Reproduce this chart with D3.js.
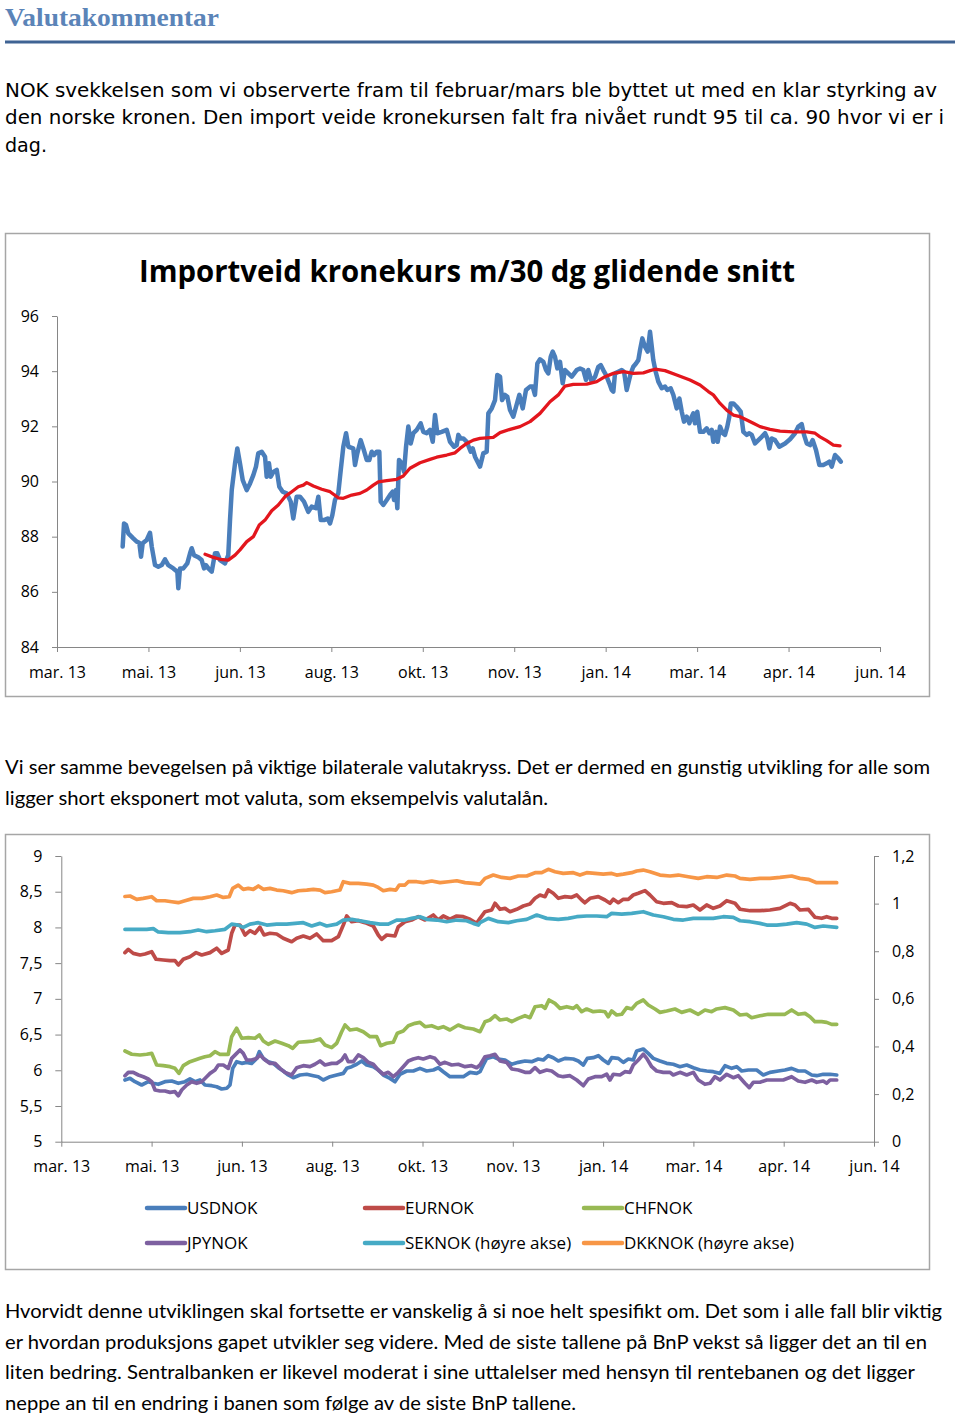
<!DOCTYPE html>
<html><head><meta charset="utf-8">
<script src="https://cdn.jsdelivr.net/npm/d3@7"></script>
<style>body{margin:0;background:#fff}svg{display:block}</style>
</head><body><svg id="page" width="960" height="1416"></svg>
<script>
// ---------- DATA ----------
const headerTitle = "Valutakommentar";
const para1 = [
  "NOK svekkelsen som vi observerte fram til februar/mars ble byttet ut med en klar styrking av",
  "den norske kronen. Den import veide kronekursen falt fra nivået rundt 95 til ca. 90 hvor vi er i",
  "dag."
];
const para2 = [
  "Vi ser samme bevegelsen på viktige bilaterale valutakryss. Det er dermed en gunstig utvikling for alle som",
  "ligger short eksponert mot valuta, som eksempelvis valutalån."
];
const para3 = [
  "Hvorvidt denne utviklingen skal fortsette er vanskelig å si noe helt spesifikt om. Det som i alle fall blir viktig",
  "er hvordan produksjons gapet utvikler seg videre. Med de siste tallene på BnP vekst så ligger det an til en",
  "liten bedring. Sentralbanken er likevel moderat i sine uttalelser med hensyn til rentebanen og det ligger",
  "neppe an til en endring i banen som følge av de siste BnP tallene."
];
const chart1Title = "Importveid kronekurs m/30 dg glidende snitt";
const xTickLabels = ["mar. 13","mai. 13","jun. 13","aug. 13","okt. 13","nov. 13","jan. 14","mar. 14","apr. 14","jun. 14"];
const kursTicks = [84,86,88,90,92,94,96];
const leftTicks = [5,5.5,6,6.5,7,7.5,8,8.5,9];
const rightTicks = [0,0.2,0.4,0.6,0.8,1,1.2];

// x in tick-interval units (0 = "mar. 13", 9 = "jun. 14")
const importKurs = [[0.718,87.64],[0.733,88.48],[0.755,88.42],[0.780,88.12],[0.834,87.94],[0.872,87.82],[0.900,87.78],[0.919,87.27],[0.937,87.76],[0.981,87.88],[1.017,88.14],[1.036,87.64],[1.072,86.97],[1.108,86.91],[1.145,86.97],[1.181,87.18],[1.217,86.97],[1.272,86.85],[1.316,86.73],[1.327,86.13],[1.345,86.85],[1.381,86.85],[1.425,87.03],[1.455,87.40],[1.473,87.58],[1.498,87.33],[1.545,87.25],[1.582,87.15],[1.608,86.85],[1.629,86.97],[1.655,86.85],[1.692,86.73],[1.728,87.40],[1.753,87.40],[1.783,87.15],[1.837,87.03],[1.873,87.33],[1.892,88.60],[1.911,89.69],[1.947,90.66],[1.972,91.20],[2.001,90.66],[2.031,90.05],[2.075,89.69],[2.111,89.93],[2.147,90.23],[2.176,90.54],[2.201,91.02],[2.239,91.08],[2.275,90.90],[2.293,90.17],[2.318,90.66],[2.337,90.17],[2.366,90.35],[2.403,90.42],[2.431,89.81],[2.468,89.63],[2.512,89.57],[2.556,89.27],[2.584,88.66],[2.621,89.45],[2.657,89.45],[2.701,89.27],[2.748,88.90],[2.785,89.09],[2.832,89.03],[2.858,89.45],[2.884,88.60],[2.920,88.60],[2.960,88.66],[2.986,88.48],[3.011,88.78],[3.040,89.33],[3.076,89.57],[3.103,90.42],[3.131,91.26],[3.161,91.75],[3.186,91.26],[3.240,91.20],[3.259,90.60],[3.284,91.02],[3.321,91.50],[3.350,91.20],[3.387,90.78],[3.415,90.78],[3.442,91.08],[3.467,90.96],[3.496,91.08],[3.525,91.08],[3.540,89.27],[3.568,89.15],[3.606,89.33],[3.642,89.51],[3.671,89.63],[3.686,89.33],[3.707,89.69],[3.722,89.03],[3.740,90.78],[3.770,90.66],[3.795,90.35],[3.817,91.26],[3.842,91.99],[3.868,91.38],[3.897,91.75],[3.934,91.87],[3.977,92.11],[4.006,91.80],[4.043,91.75],[4.079,91.87],[4.109,91.44],[4.134,92.41],[4.159,91.75],[4.207,91.80],[4.262,91.87],[4.298,91.44],[4.342,91.26],[4.371,91.32],[4.389,91.69],[4.415,91.56],[4.443,91.56],[4.481,91.44],[4.524,91.08],[4.546,91.20],[4.571,90.90],[4.607,90.66],[4.626,90.54],[4.662,91.02],[4.699,91.08],[4.717,92.47],[4.754,92.65],[4.790,92.95],[4.815,93.86],[4.845,93.80],[4.867,92.95],[4.899,93.14],[4.925,93.07],[4.954,92.59],[4.990,92.35],[5.020,92.71],[5.056,93.14],[5.093,92.65],[5.129,93.32],[5.173,93.44],[5.202,93.44],[5.227,93.14],[5.253,94.28],[5.282,94.43],[5.318,94.34],[5.348,94.04],[5.373,93.92],[5.399,94.52],[5.421,94.71],[5.446,94.52],[5.471,94.10],[5.501,94.34],[5.530,93.56],[5.555,94.04],[5.592,93.92],[5.629,93.80],[5.683,94.04],[5.720,94.10],[5.756,94.04],[5.785,93.68],[5.810,94.04],[5.847,93.62],[5.884,93.80],[5.920,94.16],[5.946,94.22],[5.974,94.04],[6.004,93.86],[6.040,93.56],[6.066,93.32],[6.084,93.26],[6.102,93.92],[6.138,93.98],[6.176,94.04],[6.201,93.98],[6.230,93.32],[6.248,93.56],[6.274,93.92],[6.302,94.16],[6.332,94.28],[6.357,94.40],[6.376,94.77],[6.401,95.19],[6.430,94.89],[6.460,94.71],[6.485,95.43],[6.504,94.89],[6.521,94.40],[6.547,93.98],[6.576,93.62],[6.613,93.38],[6.649,93.44],[6.674,93.32],[6.711,93.38],[6.740,93.14],[6.777,92.65],[6.806,93.01],[6.832,92.53],[6.857,92.17],[6.887,92.35],[6.915,92.11],[6.941,92.35],[6.959,92.47],[6.977,92.11],[7.002,92.53],[7.032,91.80],[7.068,91.80],[7.105,91.93],[7.134,91.75],[7.160,91.87],[7.177,91.44],[7.207,91.80],[7.225,91.44],[7.251,91.99],[7.280,91.75],[7.305,91.69],[7.330,91.99],[7.352,92.35],[7.368,92.83],[7.396,92.83],[7.433,92.71],[7.477,92.53],[7.506,91.80],[7.543,91.69],[7.571,91.75],[7.597,91.69],[7.633,91.38],[7.670,91.50],[7.707,91.62],[7.743,91.75],[7.768,91.56],[7.790,91.20],[7.816,91.56],[7.852,91.50],[7.899,91.26],[7.962,91.38],[8.016,91.53],[8.071,91.75],[8.107,91.99],[8.144,92.08],[8.169,91.69],[8.199,91.38],[8.235,91.32],[8.264,91.50],[8.300,91.14],[8.337,90.60],[8.380,90.60],[8.417,90.66],[8.446,90.72],[8.472,90.54],[8.508,90.96],[8.544,90.84],[8.571,90.72]];
const glidendeSnitt = [[1.619,87.36],[1.709,87.25],[1.783,87.18],[1.873,87.15],[1.947,87.33],[2.001,87.52],[2.075,87.82],[2.147,88.00],[2.212,88.42],[2.275,88.60],[2.348,88.94],[2.420,89.15],[2.493,89.45],[2.567,89.63],[2.639,89.81],[2.694,89.87],[2.731,89.96],[2.803,89.84],[2.895,89.72],[2.986,89.63],[3.076,89.41],[3.131,89.39],[3.223,89.51],[3.314,89.57],[3.387,89.69],[3.459,89.87],[3.514,89.99],[3.606,90.03],[3.715,90.08],[3.787,90.20],[3.860,90.48],[3.970,90.68],[4.079,90.80],[4.152,90.88],[4.262,90.96],[4.353,91.04],[4.407,91.20],[4.481,91.38],[4.553,91.50],[4.626,91.56],[4.771,91.60],[4.845,91.77],[4.954,91.89],[5.063,91.99],[5.173,92.17],[5.282,92.47],[5.391,92.89],[5.482,93.14],[5.555,93.46],[5.646,93.52],[5.793,93.53],[5.902,93.62],[5.993,93.80],[6.084,93.92],[6.193,93.98],[6.302,93.92],[6.412,93.94],[6.485,94.02],[6.540,94.07],[6.649,94.02],[6.777,93.86],[6.922,93.68],[7.032,93.50],[7.123,93.26],[7.177,93.14],[7.251,92.83],[7.324,92.59],[7.396,92.41],[7.469,92.35],[7.543,92.23],[7.615,92.11],[7.688,91.99],[7.797,91.89],[7.907,91.83],[8.052,91.80],[8.199,91.80],[8.290,91.75],[8.344,91.62],[8.417,91.48],[8.490,91.32],[8.563,91.29]];

const usdnok = [[0.705,5.864],[0.761,5.887],[0.816,5.840],[0.890,5.794],[0.963,5.840],[1.019,5.818],[1.074,5.804],[1.148,5.840],[1.223,5.850],[1.296,5.818],[1.370,5.840],[1.425,5.878],[1.481,5.840],[1.536,5.864],[1.591,5.794],[1.666,5.784],[1.721,5.770],[1.776,5.738],[1.832,5.748],[1.868,5.794],[1.898,6.027],[1.942,6.120],[1.998,6.097],[2.053,6.111],[2.108,6.097],[2.164,6.167],[2.193,6.260],[2.237,6.167],[2.292,6.120],[2.348,6.097],[2.403,6.036],[2.458,5.990],[2.514,5.934],[2.569,5.896],[2.643,5.934],[2.718,5.944],[2.791,5.924],[2.846,5.910],[2.901,5.864],[2.976,5.910],[3.050,5.934],[3.123,5.957],[3.161,6.027],[3.216,6.050],[3.271,6.084],[3.327,6.130],[3.382,6.074],[3.455,6.050],[3.510,6.004],[3.566,5.934],[3.640,5.887],[3.695,5.840],[3.751,5.944],[3.825,5.990],[3.898,5.990],[3.972,6.027],[4.046,5.990],[4.120,6.004],[4.175,6.036],[4.230,5.980],[4.304,5.910],[4.379,5.910],[4.452,5.910],[4.526,5.971],[4.600,5.957],[4.637,5.980],[4.673,6.074],[4.711,6.167],[4.784,6.190],[4.839,6.158],[4.914,6.144],[4.988,6.084],[5.061,6.111],[5.135,6.130],[5.209,6.120],[5.282,6.158],[5.338,6.144],[5.393,6.204],[5.448,6.176],[5.504,6.130],[5.578,6.167],[5.670,6.158],[5.725,6.130],[5.781,6.074],[5.825,6.167],[5.891,6.176],[5.947,6.204],[6.002,6.144],[6.057,6.097],[6.095,6.176],[6.168,6.167],[6.224,6.111],[6.279,6.158],[6.334,6.144],[6.372,6.270],[6.445,6.298],[6.500,6.237],[6.556,6.167],[6.630,6.130],[6.704,6.097],[6.777,6.084],[6.851,6.050],[6.926,6.074],[6.999,6.036],[7.073,6.004],[7.147,5.990],[7.220,5.980],[7.294,5.957],[7.350,6.064],[7.424,6.027],[7.479,6.050],[7.535,5.990],[7.608,6.004],[7.701,6.004],[7.774,5.934],[7.848,5.971],[7.940,5.990],[8.014,6.004],[8.088,6.027],[8.161,5.990],[8.236,5.990],[8.310,5.934],[8.365,5.924],[8.438,5.944],[8.513,5.944],[8.587,5.934]];
const eurnok = [[0.705,7.647],[0.742,7.693],[0.797,7.637],[0.872,7.614],[0.927,7.628],[1.001,7.660],[1.049,7.554],[1.130,7.544],[1.204,7.535],[1.259,7.535],[1.296,7.474],[1.351,7.554],[1.425,7.590],[1.492,7.647],[1.555,7.614],[1.647,7.647],[1.721,7.708],[1.776,7.637],[1.849,7.684],[1.887,7.918],[1.924,8.034],[1.979,8.034],[2.034,7.894],[2.090,7.954],[2.145,7.918],[2.200,8.002],[2.245,7.894],[2.311,7.918],[2.385,7.908],[2.458,7.848],[2.551,7.800],[2.607,7.848],[2.680,7.880],[2.754,7.848],[2.828,7.908],[2.901,7.814],[2.994,7.814],[3.068,7.870],[3.123,8.034],[3.161,8.160],[3.216,8.080],[3.289,8.095],[3.363,8.067],[3.455,8.020],[3.510,7.894],[3.548,7.834],[3.604,7.894],[3.695,7.880],[3.732,8.010],[3.806,8.080],[3.880,8.104],[3.953,8.150],[4.028,8.104],[4.120,8.174],[4.175,8.104],[4.230,8.160],[4.304,8.114],[4.379,8.160],[4.452,8.150],[4.526,8.114],[4.600,8.058],[4.637,8.128],[4.692,8.220],[4.766,8.244],[4.803,8.338],[4.858,8.254],[4.914,8.267],[4.969,8.220],[5.043,8.254],[5.116,8.300],[5.190,8.328],[5.246,8.408],[5.301,8.454],[5.357,8.431],[5.393,8.524],[5.448,8.478],[5.504,8.408],[5.578,8.431],[5.652,8.422],[5.708,8.454],[5.763,8.384],[5.799,8.346],[5.855,8.408],[5.947,8.431],[6.021,8.384],[6.076,8.338],[6.113,8.394],[6.168,8.346],[6.224,8.394],[6.279,8.394],[6.334,8.454],[6.390,8.478],[6.464,8.515],[6.519,8.454],[6.593,8.360],[6.667,8.338],[6.760,8.346],[6.833,8.300],[6.926,8.291],[6.999,8.314],[7.073,8.244],[7.147,8.314],[7.220,8.267],[7.294,8.300],[7.369,8.374],[7.461,8.338],[7.516,8.254],[7.627,8.234],[7.737,8.234],[7.848,8.244],[7.959,8.267],[8.070,8.338],[8.125,8.314],[8.180,8.244],[8.272,8.254],[8.346,8.142],[8.421,8.128],[8.476,8.151],[8.531,8.128],[8.587,8.128]];
const chfnok = [[0.705,6.270],[0.780,6.224],[0.872,6.214],[0.946,6.224],[1.001,6.237],[1.056,6.074],[1.130,6.064],[1.204,6.050],[1.259,6.027],[1.303,5.957],[1.351,6.064],[1.425,6.120],[1.481,6.144],[1.536,6.167],[1.591,6.190],[1.647,6.204],[1.702,6.260],[1.757,6.224],[1.849,6.224],[1.887,6.470],[1.942,6.588],[1.998,6.448],[2.071,6.457],[2.145,6.448],[2.193,6.494],[2.237,6.410],[2.292,6.364],[2.367,6.410],[2.441,6.378],[2.514,6.344],[2.563,6.308],[2.625,6.392],[2.718,6.401],[2.791,6.410],[2.865,6.438],[2.920,6.354],[2.994,6.317],[3.050,6.378],[3.105,6.540],[3.142,6.634],[3.197,6.564],[3.271,6.578],[3.344,6.540],[3.419,6.470],[3.493,6.470],[3.537,6.344],[3.604,6.378],[3.677,6.392],[3.721,6.518],[3.787,6.550],[3.843,6.624],[3.917,6.657],[3.972,6.671],[4.028,6.610],[4.102,6.624],[4.175,6.587],[4.230,6.610],[4.304,6.564],[4.396,6.634],[4.471,6.596],[4.563,6.578],[4.637,6.540],[4.692,6.680],[4.747,6.704],[4.803,6.764],[4.858,6.704],[4.932,6.718],[4.988,6.680],[5.061,6.727],[5.135,6.764],[5.190,6.736],[5.246,6.890],[5.320,6.904],[5.357,6.867],[5.401,6.984],[5.467,6.937],[5.523,6.867],[5.597,6.890],[5.670,6.867],[5.708,6.904],[5.763,6.820],[5.818,6.858],[5.891,6.820],[5.966,6.830],[6.021,6.820],[6.057,6.750],[6.095,6.830],[6.150,6.774],[6.206,6.784],[6.261,6.877],[6.317,6.858],[6.372,6.937],[6.445,6.984],[6.500,6.914],[6.575,6.858],[6.630,6.811],[6.704,6.830],[6.796,6.858],[6.870,6.811],[6.962,6.844],[7.054,6.784],[7.128,6.844],[7.202,6.820],[7.258,6.858],[7.350,6.877],[7.442,6.844],[7.516,6.774],[7.590,6.784],[7.645,6.736],[7.737,6.764],[7.829,6.784],[7.922,6.784],[8.014,6.784],[8.088,6.844],[8.161,6.784],[8.236,6.797],[8.291,6.750],[8.346,6.680],[8.421,6.680],[8.476,6.671],[8.531,6.643],[8.587,6.643]];
const jpynok = [[0.705,5.924],[0.742,5.971],[0.797,5.971],[0.853,5.934],[0.908,5.910],[0.963,5.878],[1.001,5.840],[1.038,5.724],[1.093,5.710],[1.148,5.710],[1.204,5.691],[1.259,5.700],[1.296,5.644],[1.333,5.724],[1.389,5.794],[1.444,5.840],[1.499,5.818],[1.555,5.840],[1.610,5.910],[1.647,5.957],[1.702,6.004],[1.739,6.074],[1.794,6.074],[1.849,6.027],[1.887,6.167],[1.942,6.237],[1.979,6.284],[2.015,6.237],[2.053,6.144],[2.108,6.144],[2.164,6.167],[2.200,6.214],[2.256,6.144],[2.311,6.097],[2.367,6.097],[2.422,6.027],[2.477,5.971],[2.551,5.934],[2.607,6.036],[2.680,6.064],[2.754,6.050],[2.809,6.084],[2.865,6.130],[2.920,6.074],[2.994,6.097],[3.050,6.097],[3.105,6.144],[3.142,6.214],[3.178,6.120],[3.234,6.120],[3.289,6.214],[3.344,6.176],[3.400,6.111],[3.455,6.084],[3.510,6.004],[3.566,5.944],[3.621,5.971],[3.677,5.910],[3.732,5.971],[3.787,6.050],[3.843,6.130],[3.898,6.158],[3.953,6.176],[4.009,6.158],[4.083,6.190],[4.138,6.167],[4.194,6.084],[4.249,6.111],[4.323,6.074],[4.396,6.084],[4.471,6.050],[4.545,6.064],[4.600,6.036],[4.637,6.074],[4.692,6.190],[4.747,6.204],[4.803,6.224],[4.858,6.130],[4.932,6.111],[4.988,6.018],[5.061,6.004],[5.135,5.971],[5.190,5.971],[5.246,6.036],[5.301,5.971],[5.375,6.004],[5.431,5.990],[5.504,5.924],[5.559,5.910],[5.633,5.924],[5.708,5.864],[5.781,5.784],[5.836,5.878],[5.910,5.910],[5.984,5.910],[6.040,5.944],[6.076,5.864],[6.113,5.944],[6.187,5.934],[6.242,5.980],[6.298,5.971],[6.334,6.074],[6.390,6.144],[6.445,6.224],[6.483,6.167],[6.538,6.050],[6.593,5.990],[6.667,5.971],[6.741,5.971],[6.777,5.934],[6.851,5.971],[6.926,5.934],[6.999,5.971],[7.054,5.864],[7.128,5.804],[7.184,5.818],[7.239,5.910],[7.294,5.864],[7.369,5.944],[7.442,5.896],[7.497,5.924],[7.571,5.818],[7.619,5.757],[7.663,5.832],[7.737,5.832],[7.812,5.864],[7.904,5.864],[7.995,5.864],[8.088,5.910],[8.161,5.850],[8.236,5.832],[8.310,5.864],[8.365,5.832],[8.438,5.850],[8.476,5.818],[8.513,5.864],[8.587,5.864]];
const seknok = [[0.705,0.892],[0.835,0.892],[0.946,0.892],[1.019,0.895],[1.074,0.881],[1.185,0.878],[1.314,0.878],[1.425,0.882],[1.517,0.889],[1.610,0.882],[1.702,0.886],[1.813,0.892],[1.887,0.914],[1.960,0.910],[2.015,0.900],[2.090,0.914],[2.182,0.920],[2.275,0.910],[2.385,0.914],[2.496,0.914],[2.588,0.917],[2.680,0.920],[2.773,0.906],[2.865,0.917],[2.939,0.906],[3.050,0.914],[3.123,0.931],[3.216,0.934],[3.308,0.928],[3.419,0.920],[3.529,0.914],[3.621,0.914],[3.714,0.931],[3.806,0.931],[3.880,0.938],[3.972,0.945],[4.046,0.934],[4.157,0.931],[4.268,0.924],[4.379,0.931],[4.489,0.928],[4.563,0.917],[4.618,0.910],[4.637,0.920],[4.729,0.938],[4.839,0.924],[4.950,0.920],[5.043,0.928],[5.154,0.934],[5.265,0.952],[5.375,0.938],[5.504,0.934],[5.614,0.938],[5.708,0.945],[5.818,0.948],[5.929,0.948],[6.040,0.945],[6.095,0.959],[6.206,0.956],[6.317,0.959],[6.445,0.966],[6.556,0.952],[6.667,0.945],[6.777,0.934],[6.888,0.931],[6.999,0.938],[7.109,0.938],[7.220,0.938],[7.331,0.945],[7.442,0.942],[7.516,0.928],[7.627,0.924],[7.737,0.917],[7.812,0.910],[7.922,0.910],[8.033,0.914],[8.144,0.920],[8.255,0.914],[8.346,0.900],[8.438,0.906],[8.587,0.900]];
const dkknok = [[0.705,1.030],[0.761,1.032],[0.835,1.018],[0.908,1.022],[1.001,1.029],[1.056,1.012],[1.148,1.012],[1.223,1.008],[1.296,1.004],[1.370,1.012],[1.462,1.022],[1.555,1.022],[1.647,1.029],[1.721,1.036],[1.794,1.026],[1.860,1.029],[1.898,1.064],[1.960,1.078],[2.015,1.060],[2.071,1.064],[2.126,1.060],[2.182,1.074],[2.237,1.060],[2.311,1.064],[2.385,1.057],[2.458,1.054],[2.551,1.046],[2.625,1.054],[2.718,1.057],[2.791,1.060],[2.865,1.057],[2.920,1.046],[2.994,1.050],[3.086,1.057],[3.123,1.092],[3.197,1.085],[3.289,1.085],[3.382,1.082],[3.455,1.078],[3.510,1.068],[3.566,1.054],[3.640,1.060],[3.706,1.057],[3.743,1.078],[3.806,1.078],[3.843,1.092],[3.936,1.092],[4.009,1.088],[4.102,1.095],[4.194,1.088],[4.286,1.092],[4.379,1.096],[4.471,1.088],[4.563,1.085],[4.637,1.082],[4.692,1.106],[4.784,1.120],[4.877,1.110],[4.969,1.106],[5.061,1.116],[5.154,1.116],[5.246,1.130],[5.320,1.130],[5.393,1.144],[5.467,1.134],[5.559,1.127],[5.670,1.130],[5.744,1.120],[5.818,1.130],[5.910,1.127],[6.002,1.124],[6.095,1.127],[6.150,1.120],[6.224,1.124],[6.317,1.130],[6.372,1.137],[6.445,1.141],[6.519,1.134],[6.630,1.120],[6.741,1.116],[6.833,1.120],[6.943,1.113],[7.054,1.106],[7.147,1.113],[7.258,1.110],[7.369,1.120],[7.461,1.116],[7.516,1.106],[7.627,1.102],[7.737,1.106],[7.848,1.106],[7.959,1.110],[8.088,1.116],[8.180,1.106],[8.272,1.102],[8.365,1.088],[8.476,1.088],[8.587,1.088]];

const seriesNames = ["USDNOK","EURNOK","CHFNOK","JPYNOK","SEKNOK (høyre akse)","DKKNOK (høyre akse)"];
const seriesData = [usdnok, eurnok, chfnok, jpynok, seknok, dkknok];
const seriesAxis = ["left","left","left","left","right","right"];
const seriesColors = ["#4a7ebb","#be4b48","#98b954","#7d60a0","#46aac5","#f79646"];

// ---------- DRAW ----------
const svg = d3.select("#page");
const AX = "#868686";
const fmtComma = v => String(v).replace(".", ",");

function textLines(lines, opts) {
  lines.forEach((t, i) => {
    const el = svg.append("text")
      .attr("x", opts.x).attr("y", opts.y0 + i * opts.dy)
      .attr("font-family", opts.font).attr("font-size", opts.size)
      .attr("fill", opts.fill || "#000").text(t);
    if (opts.widths && opts.widths[i]) el.attr("textLength", opts.widths[i]).attr("lengthAdjust", "spacingAndGlyphs");
  });
}

// Header
svg.append("text").attr("x", 5).attr("y", 26)
  .attr("font-family", "'Liberation Serif', serif").attr("font-weight", "bold")
  .attr("font-size", 26).attr("fill", "#5b84b8")
  .attr("textLength", 214).attr("lengthAdjust", "spacingAndGlyphs").text(headerTitle);
svg.append("line").attr("x1", 5).attr("x2", 955).attr("y1", 42).attr("y2", 42)
  .attr("stroke", "#3f6394").attr("stroke-width", 3);

textLines(para1, {x: 5, y0: 97, dy: 27.3, font: "'DejaVu Sans', sans-serif", size: 19, widths: [932, 939, 42]});

// ---------- Chart 1 ----------
svg.append("rect").attr("x", 5.5).attr("y", 233.5).attr("width", 924).attr("height", 463)
  .attr("fill", "#fff").attr("stroke", "#a6a6a6").attr("stroke-width", 1.5);
svg.append("text").attr("x", 467).attr("y", 282).attr("text-anchor", "middle")
  .attr("font-family", "'Open Sans', sans-serif").attr("font-weight", "bold").attr("font-size", 31)
  .attr("textLength", 656).attr("lengthAdjust", "spacingAndGlyphs").text(chart1Title);

const x1 = d3.scaleLinear().domain([0, 9]).range([57, 880]);
const y1 = d3.scaleLinear().domain([84, 96]).range([647, 316]);

function styleAxis(g) {
  g.selectAll("path,line").attr("stroke", AX);
  g.selectAll("text").attr("font-family", "'Open Sans', sans-serif").attr("font-size", 16).attr("fill", "#000");
}
svg.append("g").attr("transform", "translate(57,0)")
  .call(d3.axisLeft(y1).tickValues(kursTicks).tickSize(5).tickSizeOuter(0).tickPadding(13))
  .call(styleAxis);
svg.append("g").attr("transform", "translate(0,647)")
  .call(d3.axisBottom(x1).tickValues(d3.range(xTickLabels.length)).tickFormat(i => xTickLabels[i])
    .tickSize(5).tickSizeOuter(0).tickPadding(15))
  .call(styleAxis);

const line1 = d3.line().x(d => x1(d[0])).y(d => y1(d[1]));
svg.append("path").datum(importKurs).attr("d", line1).attr("fill", "none")
  .attr("stroke", "#4a7ebb").attr("stroke-width", 4.5).attr("stroke-linejoin", "round").attr("stroke-linecap", "round");
svg.append("path").datum(glidendeSnitt).attr("d", line1).attr("fill", "none")
  .attr("stroke", "#e3161d").attr("stroke-width", 3.3).attr("stroke-linejoin", "round").attr("stroke-linecap", "round");

textLines(para2, {x: 5, y0: 774, dy: 30.5, font: "Lato, sans-serif", size: 19.5, widths: [925, 543]});

// ---------- Chart 2 ----------
svg.append("rect").attr("x", 5.5).attr("y", 834.5).attr("width", 924).attr("height", 435)
  .attr("fill", "#fff").attr("stroke", "#a6a6a6").attr("stroke-width", 1.5);

const x2 = d3.scaleLinear().domain([0, 9]).range([61.3, 874]);
const yL = d3.scaleLinear().domain([5, 9]).range([1141.7, 856]);
const yR = d3.scaleLinear().domain([0, 1.2]).range([1141.7, 856]);

svg.append("g").attr("transform", "translate(61.3,0)")
  .call(d3.axisLeft(yL).tickValues(leftTicks).tickFormat(fmtComma).tickSize(6).tickSizeOuter(0).tickPadding(13))
  .call(styleAxis);
svg.append("g").attr("transform", "translate(874,0)")
  .call(d3.axisRight(yR).tickValues(rightTicks).tickFormat(fmtComma).tickSize(5).tickSizeOuter(0).tickPadding(13))
  .call(styleAxis);
svg.append("g").attr("transform", "translate(0,1141.7)")
  .call(d3.axisBottom(x2).tickValues(d3.range(xTickLabels.length)).tickFormat(i => xTickLabels[i])
    .tickSize(5).tickSizeOuter(0).tickPadding(14))
  .call(styleAxis);

seriesData.forEach((data, i) => {
  const ys = seriesAxis[i] === "left" ? yL : yR;
  const ln = d3.line().x(d => x2(d[0])).y(d => ys(d[1]));
  svg.append("path").datum(data).attr("d", ln).attr("fill", "none")
    .attr("stroke", seriesColors[i]).attr("stroke-width", 3.7)
    .attr("stroke-linejoin", "round").attr("stroke-linecap", "round");
});

// Legend
const legX = [145, 363, 582], legY = [1208, 1243];
seriesNames.forEach((name, i) => {
  const lx = legX[i % 3], ly = legY[Math.floor(i / 3)];
  svg.append("line").attr("x1", lx + 2).attr("x2", lx + 40).attr("y1", ly).attr("y2", ly)
    .attr("stroke", seriesColors[i]).attr("stroke-width", 4.5).attr("stroke-linecap", "round");
  svg.append("text").attr("x", lx + 42).attr("y", ly + 6)
    .attr("font-family", "'Open Sans', sans-serif").attr("font-size", 17).text(name);
});

textLines(para3, {x: 5, y0: 1318, dy: 30.5, font: "Lato, sans-serif", size: 19.5, widths: [937, 922, 910, 571]});
</script></body></html>
